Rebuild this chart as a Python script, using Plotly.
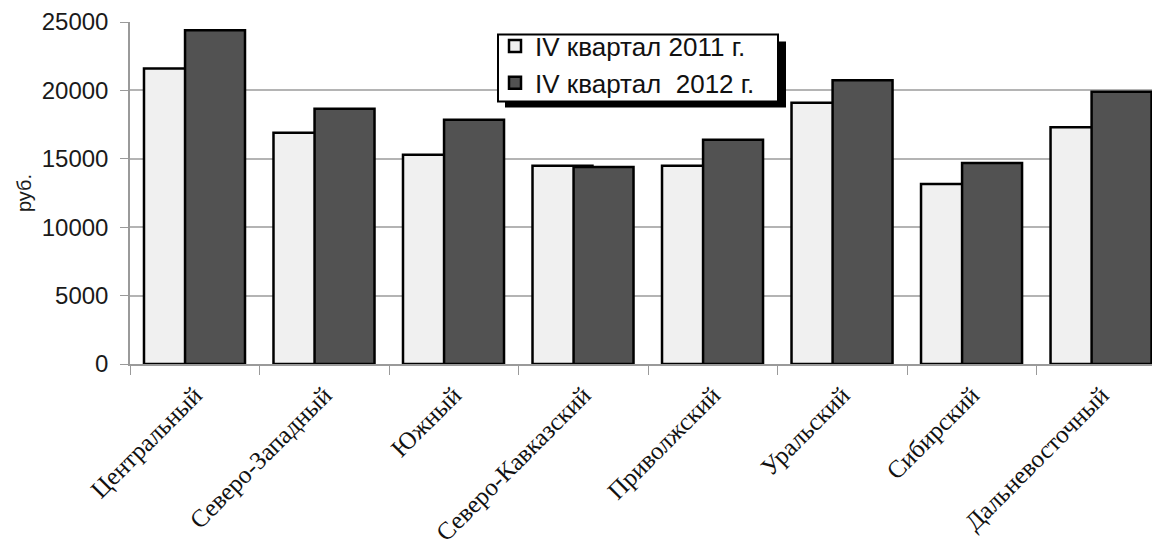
import plotly.graph_objects as go

# ==========================================================
# DATOS
# ==========================================================

regions = [
    "Центральный",
    "Северо-Западный",
    "Южный",
    "Северо-Кавказский",
    "Приволжский",
    "Уральский",
    "Сибирский",
    "Дальневосточный",
]

values_2011 = [21600, 16900, 15300, 14500, 14500, 19100, 13150, 17300]
values_2012 = [24400, 18650, 17850, 14400, 16400, 20750, 14700, 19900]

name_2011 = "IV квартал 2011 г."
name_2012 = "IV квартал\u00a0 2012 г."

y_ticks = [0, 5000, 10000, 15000, 20000, 25000]

# geometria en pixeles de la pagina (el body del html tiene 8px de margen)
PLOT_LEFT = 130
PLOT_TOP = 21.5
PLOT_BOTTOM = 364
PLOT_W = 1038
PLOT_H = PLOT_BOTTOM - PLOT_TOP


def px_x(x):
    return (x - PLOT_LEFT) / PLOT_W


def px_y(y):
    return (PLOT_BOTTOM - y) / PLOT_H


# ==========================================================
# FIGURA
# ==========================================================

fig = go.Figure()

fig.add_trace(
    go.Bar(
        x=regions,
        y=values_2011,
        name=name_2011,
        offset=-0.392,
        width=0.463,
        marker=dict(color="#f0f0f0", line=dict(color="#000000", width=2.5)),
    )
)

fig.add_trace(
    go.Bar(
        x=regions,
        y=values_2012,
        name=name_2012,
        offset=-0.075,
        width=0.463,
        marker=dict(color="#525252", line=dict(color="#000000", width=2.5)),
    )
)

# caja de la leyenda con sombra
fig.add_shape(
    type="rect",
    xref="paper",
    yref="paper",
    x0=px_x(505),
    x1=px_x(786),
    y0=px_y(107),
    y1=px_y(41),
    fillcolor="#000000",
    line=dict(width=0),
    layer="above",
)

fig.add_shape(
    type="rect",
    xref="paper",
    yref="paper",
    x0=px_x(498),
    x1=px_x(778),
    y0=px_y(101),
    y1=px_y(34),
    fillcolor="#ffffff",
    line=dict(color="#000000", width=2),
    layer="above",
)

fig.update_layout(
    width=1160,
    height=550,
    barmode="overlay",
    plot_bgcolor="#ffffff",
    paper_bgcolor="#ffffff",
    margin=dict(l=PLOT_LEFT - 8, r=0, t=PLOT_TOP - 8, b=550 - (PLOT_BOTTOM - 8)),
    font=dict(family="Liberation Sans, Arial", size=24, color="#1a1a1a"),
    showlegend=True,
    legend=dict(
        x=px_x(495),
        y=px_y(22),
        xanchor="left",
        yanchor="top",
        bgcolor="rgba(0,0,0,0)",
        borderwidth=0,
        font=dict(size=26, color="#111111"),
        traceorder="normal",
        itemwidth=30,
    ),
)

fig.update_xaxes(
    range=[-0.5, 7.515],
    tickangle=-45,
    tickfont=dict(family="Liberation Serif, Times New Roman", size=25, color="#111111"),
    ticklabelstandoff=5,
    showline=True,
    linecolor="#9a9a9a",
    linewidth=1.5,
    ticks="outside",
    tickson="boundaries",
    ticklen=9,
    tickcolor="#9a9a9a",
    showgrid=False,
)

fig.update_yaxes(
    range=[0, 25000],
    tickvals=y_ticks,
    tickformat="d",
    tickfont=dict(size=24, color="#1a1a1a"),
    ticklabelstandoff=7,
    title=dict(text="руб.", font=dict(size=20), standoff=5),
    showline=True,
    linecolor="#9a9a9a",
    linewidth=1.5,
    ticks="outside",
    ticklen=8,
    tickcolor="#9a9a9a",
    showgrid=True,
    gridcolor="#b4b4b4",
    gridwidth=1.5,
    zeroline=False,
)

fig.write_html("out.html")
